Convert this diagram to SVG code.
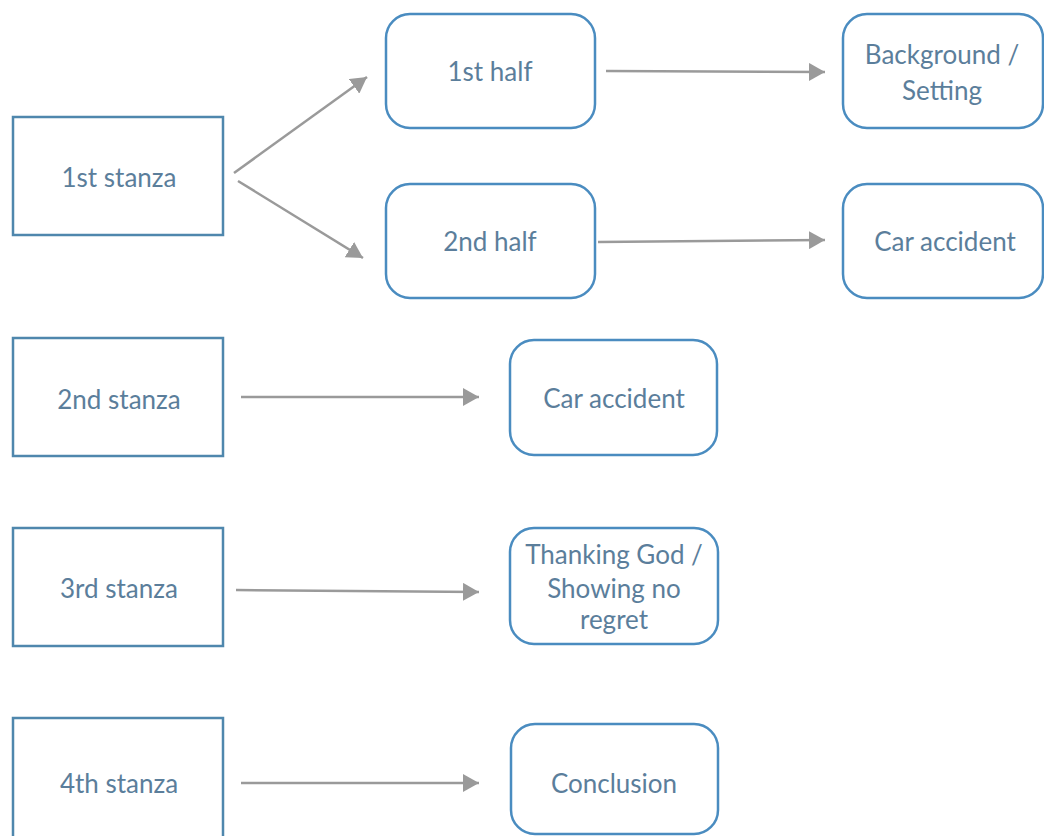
<svg xmlns="http://www.w3.org/2000/svg" width="1044" height="836" viewBox="0 0 1044 836">
  <defs>
    <marker id="arrow" markerWidth="16" markerHeight="18" refX="16" refY="9" orient="auto" markerUnits="userSpaceOnUse">
      <path d="M0,0 L16,9 L0,18 Z" fill="#9a9a9a"/>
    </marker>
  </defs>
  <style>
    .box { fill: #ffffff; stroke: #4f87ad; stroke-width: 2.5; }
    .rbox { fill: #ffffff; stroke: #4a8cc0; stroke-width: 2.5; }
    .label { font-family: Lato, "Open Sans", sans-serif; font-size: 26px; fill: #5b7e9b; text-anchor: middle; }
    .conn { stroke: #9a9a9a; stroke-width: 2.5; fill: none; marker-end: url(#arrow); }
  </style>
  <rect width="1044" height="836" fill="#ffffff"/>

  <g id="connectors">
    <line class="conn" x1="234" y1="173" x2="367" y2="77"/>
    <line class="conn" x1="238" y1="181" x2="363" y2="258"/>
    <line class="conn" x1="606" y1="71" x2="825" y2="72"/>
    <line class="conn" x1="598" y1="242" x2="825" y2="240"/>
    <line class="conn" x1="241" y1="397" x2="479" y2="397"/>
    <line class="conn" x1="236" y1="590" x2="479" y2="592"/>
    <line class="conn" x1="241" y1="783" x2="479" y2="783"/>
  </g>

  <g id="stanza1">
    <rect class="box" x="13" y="117" width="210" height="118"/>
    <text class="label" x="119" y="187">1st stanza</text>
  </g>
  <g id="half1">
    <rect class="rbox" x="386" y="14" width="209" height="114" rx="24" ry="24"/>
    <text class="label" x="490" y="81">1st half</text>
  </g>
  <g id="half2">
    <rect class="rbox" x="386" y="184" width="209" height="114" rx="24" ry="24"/>
    <text class="label" x="490" y="251">2nd half</text>
  </g>
  <g id="background">
    <rect class="rbox" x="843" y="14" width="200" height="114" rx="24" ry="24"/>
    <text class="label" x="942" y="64">Background /</text>
    <text class="label" x="942" y="100">Setting</text>
  </g>
  <g id="accident1">
    <rect class="rbox" x="843" y="184" width="200" height="114" rx="24" ry="24"/>
    <text class="label" x="945" y="251">Car accident</text>
  </g>
  <g id="stanza2">
    <rect class="box" x="13" y="338" width="210" height="118"/>
    <text class="label" x="119" y="409">2nd stanza</text>
  </g>
  <g id="accident2">
    <rect class="rbox" x="510" y="340" width="207" height="115" rx="24" ry="24"/>
    <text class="label" x="614" y="408">Car accident</text>
  </g>
  <g id="stanza3">
    <rect class="box" x="13" y="528" width="210" height="118"/>
    <text class="label" x="119" y="598">3rd stanza</text>
  </g>
  <g id="thanking">
    <rect class="rbox" x="510" y="528" width="208" height="116" rx="24" ry="24"/>
    <text class="label" x="614" y="564">Thanking God /</text>
    <text class="label" x="614" y="598">Showing no</text>
    <text class="label" x="614" y="629">regret</text>
  </g>
  <g id="stanza4">
    <rect class="box" x="13" y="718" width="210" height="124"/>
    <text class="label" x="119" y="793">4th stanza</text>
  </g>
  <g id="conclusion">
    <rect class="rbox" x="511" y="724" width="207" height="110" rx="24" ry="24"/>
    <text class="label" x="614" y="793">Conclusion</text>
  </g>
</svg>
